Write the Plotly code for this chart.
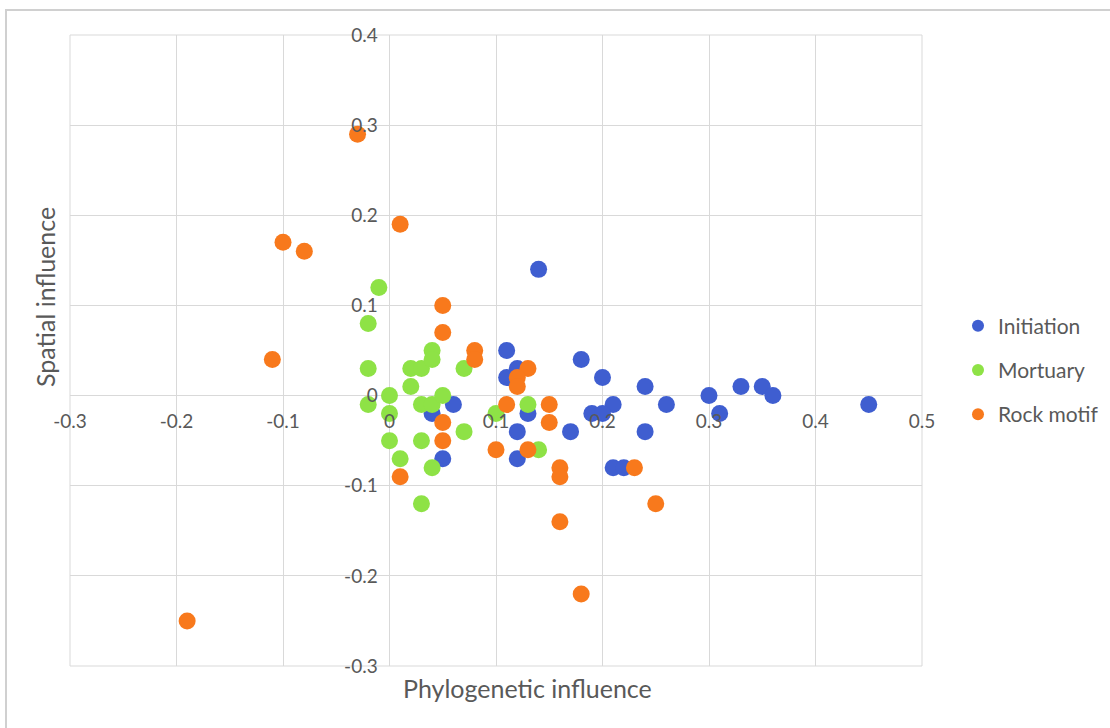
import plotly.graph_objects as go

# ---- data ----
init_x = [0.14, 0.11, 0.18, 0.20, 0.24, 0.30, 0.12, 0.11, 0.21, 0.19, 0.20, 0.26, 0.13, 0.12,
          0.17, 0.24, 0.12, 0.21, 0.22, 0.31, 0.33, 0.35, 0.36, 0.45, 0.06, 0.04, 0.05]
init_y = [0.14, 0.05, 0.04, 0.02, 0.01, 0.00, 0.03, 0.02, -0.01, -0.02, -0.02, -0.01, -0.02, -0.04,
          -0.04, -0.04, -0.07, -0.08, -0.08, -0.02, 0.01, 0.01, 0.00, -0.01, -0.01, -0.02, -0.07]

mort_x = [-0.01, -0.02, -0.02, 0.02, 0.03, 0.04, 0.04, 0.02, 0.07, 0.00, -0.02, 0.00, 0.03, 0.04,
          0.05, 0.07, 0.00, 0.03, 0.01, 0.04, 0.03, 0.10, 0.13, 0.14]
mort_y = [0.12, 0.08, 0.03, 0.03, 0.03, 0.05, 0.04, 0.01, 0.03, 0.00, -0.01, -0.02, -0.01, -0.01,
          0.00, -0.04, -0.05, -0.05, -0.07, -0.08, -0.12, -0.02, -0.01, -0.06]

rock_x = [-0.03, -0.10, -0.08, 0.01, -0.11, -0.19, 0.05, 0.05, 0.08, 0.08, 0.13, 0.12, 0.12, 0.11,
          0.15, 0.15, 0.05, 0.05, 0.01, 0.10, 0.13, 0.16, 0.16, 0.16, 0.18, 0.23, 0.25]
rock_y = [0.29, 0.17, 0.16, 0.19, 0.04, -0.25, 0.10, 0.07, 0.05, 0.04, 0.03, 0.02, 0.01, -0.01,
          -0.01, -0.03, -0.03, -0.05, -0.09, -0.06, -0.06, -0.08, -0.09, -0.14, -0.22, -0.08, -0.12]

series_names = ["Initiation", "Mortuary", "Rock motif"]
series_colors = ["#3F5ED0", "#8EE246", "#F8791C"]

x_ticks = [-0.3, -0.2, -0.1, 0, 0.1, 0.2, 0.3, 0.4, 0.5]
x_tick_text = ["-0.3", "-0.2", "-0.1", "0", "0.1", "0.2", "0.3", "0.4", "0.5"]
y_ticks = [-0.3, -0.2, -0.1, 0, 0.1, 0.2, 0.3, 0.4]
y_tick_text = ["-0.3", "-0.2", "-0.1", "0", "0.1", "0.2", "0.3", "0.4"]

x_title = "Phylogenetic influence"
y_title = "Spatial influence"

FONT = "Lato, 'Open Sans', sans-serif"
GRAY_TXT = "#595959"
GRID = "#D9D9D9"

fig = go.Figure()
for name, color, xs, ys in zip(series_names, series_colors,
                               [init_x, mort_x, rock_x], [init_y, mort_y, rock_y]):
    fig.add_trace(go.Scatter(
        x=xs, y=ys, mode="markers", name=name, legendgroup=name,
        marker=dict(size=17, color=color, line=dict(width=0)),
    ))

X0, X1 = -0.3, 0.5
Y0, Y1 = -0.3, 0.4

fig.update_layout(
    width=1110, height=728,
    margin=dict(l=70, r=188, t=35, b=62),
    paper_bgcolor="white", plot_bgcolor="white",
    font=dict(family=FONT, color=GRAY_TXT),
    showlegend=True,
    legend=dict(
        xref="container", yref="container",
        x=958 / 1110, xanchor="left", y=(728 - 370) / 728, yanchor="middle",
        font=dict(size=21, color=GRAY_TXT, family=FONT),
        traceorder="grouped", tracegroupgap=14,
        itemsizing="constant", bgcolor="rgba(0,0,0,0)",
    ),
    xaxis=dict(
        range=[X0, X1], tickvals=x_ticks, ticktext=x_tick_text,
        showgrid=True, gridcolor=GRID, gridwidth=1,
        zeroline=True, zerolinecolor=GRID, zerolinewidth=1,
        showline=False, anchor="free", position=(0 - Y0) / (Y1 - Y0),
        ticks="outside", ticklen=9, tickcolor="rgba(0,0,0,0)",
        tickfont=dict(size=19, color=GRAY_TXT, family=FONT),
        fixedrange=True,
    ),
    yaxis=dict(
        range=[Y0, Y1], tickvals=y_ticks, ticktext=y_tick_text,
        showgrid=True, gridcolor=GRID, gridwidth=1,
        zeroline=True, zerolinecolor=GRID, zerolinewidth=1,
        showline=False, anchor="free", position=(0 - X0) / (X1 - X0),
        ticks="outside", ticklen=8, tickcolor="rgba(0,0,0,0)",
        tickfont=dict(size=19, color=GRAY_TXT, family=FONT),
        fixedrange=True,
    ),
)

# plot-area border (edge gridlines)
fig.add_shape(type="rect", xref="paper", yref="paper", x0=0, x1=1, y0=0, y1=1,
              line=dict(color=GRID, width=1), fillcolor="rgba(0,0,0,0)", layer="below")

# outer chart frame
fig.add_shape(type="rect", xref="paper", yref="paper",
              x0=(6 - 70) / 852, x1=(1125 - 70) / 852,
              y0=(666 - 745) / 631, y1=(666 - 10) / 631,
              line=dict(color="#D0D0D0", width=2), fillcolor="rgba(0,0,0,0)", layer="below")

# axis titles
fig.add_annotation(text=x_title, xref="paper", yref="paper",
                   x=(527 - 70) / 852, y=(666 - 688) / 631, xanchor="center", yanchor="middle",
                   showarrow=False, font=dict(size=25, color=GRAY_TXT, family=FONT))
fig.add_annotation(text=y_title, xref="paper", yref="paper",
                   x=(45 - 70) / 852, y=(666 - 297) / 631, xanchor="center", yanchor="middle",
                   textangle=-90, showarrow=False, font=dict(size=25, color=GRAY_TXT, family=FONT))

fig.write_html("out.html", config={"displayModeBar": False},
               post_script="document.body.style.margin='0';")
